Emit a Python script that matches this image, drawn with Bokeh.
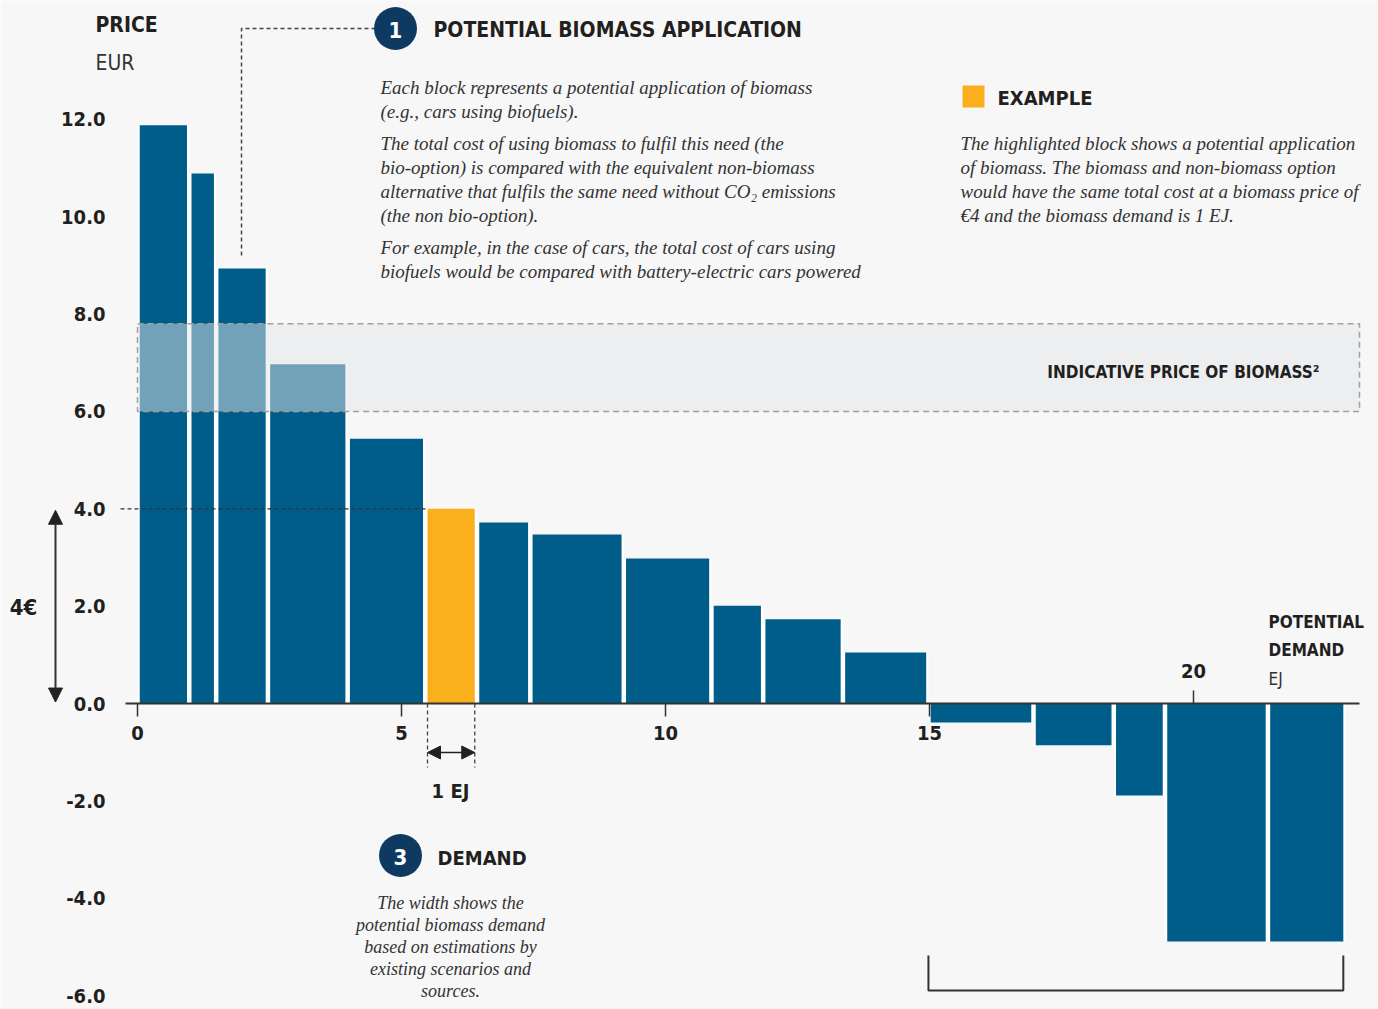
import numpy as np
from bokeh.plotting import figure
from bokeh.models import (Range1d, LinearAxis, FixedTicker, NumeralTickFormatter,
                          Arrow, NormalHead, ColumnDataSource)
from bokeh.core.properties import value
from bokeh.embed import file_html
from bokeh.resources import INLINE

# ---------------- data ----------------
demand_ej = [0.98, 0.51, 0.98, 1.51, 1.47, 0.98, 1.01, 1.77, 1.66, 0.98,
             1.51, 1.62, 1.99, 1.52, 0.97, 1.95, 1.47]
price_eur = [11.88, 10.89, 8.94, 6.97, 5.44, 4.0, 3.72, 3.47, 2.98, 2.01,
             1.73, 1.05, -0.39, -0.86, -1.89, -4.89, -4.89]
highlight_index = 5          # the "example" block
band_low, band_high = 6.0, 7.8   # indicative price of biomass
example_price = 4.0
y_ticks = [-6, -4, -2, 0, 2, 4, 6, 8, 10, 12]
x_ticks_below = [0, 5, 10, 15]
x_ticks_above = [20]

text_block_1 = [
    "Each block represents a potential application of biomass",
    "(e.g., cars using biofuels).",
    "The total cost of using biomass to fulfil this need (the",
    "bio-option) is compared with the equivalent non-biomass",
    "alternative that fulfils the same need without CO\u2082 emissions",
    "(the non bio-option).",
    "For example, in the case of cars, the total cost of cars using",
    "biofuels would be compared with battery-electric cars powered",
]
text_block_example = [
    "The highlighted block shows a potential application",
    "of biomass. The biomass and non-biomass option",
    "would have the same total cost at a biomass price of",
    "\u20ac4 and the biomass demand is 1 EJ.",
]
text_block_demand = [
    "The width shows the",
    "potential biomass demand",
    "based on estimations by",
    "existing scenarios and",
    "sources.",
]

# ---------------- styling ----------------
BG = "#f7f7f7"
BLUE = "#005d8a"
ORANGE = "#f9b01c"
NAVY = "#0e3a62"
INK = "#231f20"
HEAD = "DejaVu Sans Condensed"
SERIF = "Liberation Serif"

W, H = 1378, 1009
PX0, PXS = 137.0, 52.8      # page px of x=0, px per EJ
PY0, PYS = 703.0, 48.67     # page px of y=0, px per EUR


def X(px):
    return (px - PX0) / PXS


def Y(py):
    return (PY0 - py) / PYS


p = figure(width=W, height=H, output_backend="svg", toolbar_location=None,
           x_range=Range1d(X(0), X(W)), y_range=Range1d(Y(H), Y(0)),
           x_axis_location=None, y_axis_location=None,
           min_border=0, min_border_left=0, min_border_right=0,
           min_border_top=0, min_border_bottom=0)
p.background_fill_color = BG
p.border_fill_color = BG
p.outline_line_color = None
p.xgrid.grid_line_color = None
p.ygrid.grid_line_color = None

# ---------------- bars ----------------
ends = np.cumsum(demand_ej)
starts = ends - np.array(demand_ej)
gap = 4.5 / PXS
price = np.array(price_eur)
colors = [ORANGE if i == highlight_index else BLUE for i in range(len(price))]
src = ColumnDataSource(dict(
    left=starts, right=ends,
    ileft=starts + gap / 2, iright=ends - gap / 2,
    top=np.maximum(price, 0), bottom=np.minimum(price, 0), color=colors))
p.quad(left="left", right="right", top="top", bottom="bottom", source=src,
       fill_color="white", line_color=None)
p.quad(left="ileft", right="iright", top="top", bottom="bottom", source=src,
       fill_color="color", line_color=None)

# indicative price band
x_end = X(1359)
p.quad(left=[0], right=[x_end], bottom=[band_low], top=[band_high],
       fill_color="#e4e6ea", fill_alpha=0.5, line_color="#a0a0a0",
       line_dash="6 4", line_width=1.5)

# x axis line
p.segment(x0=[X(125)], y0=[0], x1=[x_end], y1=[0], line_color="#333333", line_width=2)

# ---------------- axes ----------------
TICK_SIZE = "20px"
yax = LinearAxis(fixed_location=X(125), ticker=FixedTicker(ticks=y_ticks),
                 formatter=NumeralTickFormatter(format="0.0"))
yax.axis_line_color = None
yax.major_tick_line_color = None
yax.minor_tick_line_color = None
yax.major_label_standoff = 14
yax.major_label_text_font = HEAD
yax.major_label_text_font_style = "bold"
yax.major_label_text_font_size = TICK_SIZE
yax.major_label_text_color = INK
p.add_layout(yax, "left")

for side, ticks, standoff in (("below", x_ticks_below, 9), ("above", x_ticks_above, 13)):
    ax = LinearAxis(fixed_location=0, ticker=FixedTicker(ticks=ticks))
    ax.axis_line_color = None
    ax.minor_tick_line_color = None
    ax.major_tick_in = 0
    ax.major_tick_out = 13
    ax.major_tick_line_color = "#333333"
    ax.major_tick_line_width = 1.5
    ax.major_label_standoff = standoff
    ax.major_label_text_font = HEAD
    ax.major_label_text_font_style = "bold"
    ax.major_label_text_font_size = TICK_SIZE
    ax.major_label_text_color = INK
    p.add_layout(ax, side)


# ---------------- annotations ----------------
def txt(px, py, s, size, font=HEAD, style="bold", color=INK, align="left"):
    p.text(x=[X(px)], y=[Y(py)], text=[s], text_font=value(font),
           text_font_size=f"{size}px", text_font_style=style, text_color=color,
           text_align=align, text_baseline="middle")


txt(95, 24, "PRICE", 21)
txt(95, 62, "EUR", 21, style="normal", color="#333333")

# dashed connector to block
p.line(x=[X(241), X(241), X(376)], y=[Y(255), Y(28), Y(28)],
       line_color="#444444", line_width=1.5, line_dash="4 3")
p.scatter(x=[X(395)], y=[Y(28)], size=43, marker="circle", fill_color=NAVY, line_color=None)
txt(395, 29, "1", 22, color="white", align="center")
txt(433, 29, "POTENTIAL BIOMASS APPLICATION", 21)

for i, line in enumerate(text_block_1):
    yy = [87, 111, 143, 167, 191, 215, 247, 271][i]
    txt(380, yy, line, 19, font=SERIF, style="italic", color="#333333")

p.scatter(x=[X(973)], y=[Y(96)], size=22, marker="square", fill_color=ORANGE, line_color=None)
txt(997, 97, "EXAMPLE", 20)
for i, line in enumerate(text_block_example):
    txt(960, 143 + 24 * i, line, 19, font=SERIF, style="italic", color="#333333")

txt(1319, 371, "INDICATIVE PRICE OF BIOMASS\u00b2", 17, align="right")

# example price guide
ex_left = starts[highlight_index] + gap / 2
ex_right = ends[highlight_index] - gap / 2
p.segment(x0=[X(120)], y0=[example_price], x1=[ex_left], y1=[example_price],
          line_color="#333333", line_width=1.3, line_dash="4 3")
p.add_layout(Arrow(x_start=X(55), y_start=0.03, x_end=X(55), y_end=example_price - 0.03,
                   line_color="#333333", line_width=2,
                   start=NormalHead(size=14, fill_color="#222222", line_color="#222222"),
                   end=NormalHead(size=14, fill_color="#222222", line_color="#222222")))
txt(23, 607, "4\u20ac", 22, align="center")

# 1 EJ width marker
p.segment(x0=[ex_left, ex_right], y0=[0, 0], x1=[ex_left, ex_right], y1=[Y(767), Y(767)],
          line_color="#444444", line_width=1.3, line_dash="4 3")
p.add_layout(Arrow(x_start=ex_left, y_start=Y(752), x_end=ex_right, y_end=Y(752),
                   line_color="#222222", line_width=1.5,
                   start=NormalHead(size=13, fill_color="#222222", line_color="#222222"),
                   end=NormalHead(size=13, fill_color="#222222", line_color="#222222")))
txt(450, 790, "1 EJ", 20, align="center")

# demand
p.scatter(x=[X(400)], y=[Y(855)], size=43, marker="circle", fill_color=NAVY, line_color=None)
txt(400, 856, "3", 22, color="white", align="center")
txt(437, 857, "DEMAND", 20)
for i, line in enumerate(text_block_demand):
    txt(450, 902 + 22 * i, line, 18, font=SERIF, style="italic", color="#333333", align="center")

# potential demand label
txt(1268, 621, "POTENTIAL", 17)
txt(1268, 649, "DEMAND", 17)
txt(1268, 678, "EJ", 17, style="normal", color="#333333")

# bracket under negative blocks
neg_left = starts[12]
neg_right = ends[-1] - gap / 2
p.line(x=[neg_left, neg_left, neg_right, neg_right], y=[Y(955), Y(990), Y(990), Y(955)],
       line_color="#333333", line_width=2)

open("out.html", "w").write(file_html(p, INLINE))
